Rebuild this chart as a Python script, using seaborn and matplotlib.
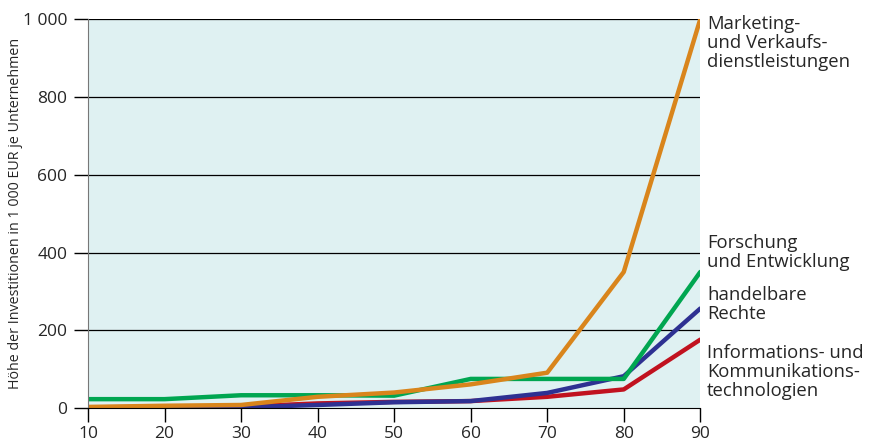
import numpy as np
import pandas as pd
import matplotlib
matplotlib.use("Agg")
import matplotlib.pyplot as plt
import seaborn as sns

# ─── Data ────────────────────────────────────────────────────────────────────
percentiles = [10, 20, 30, 40, 50, 60, 70, 80, 90]
marketing   = [3, 6, 8, 29, 40, 61, 91, 350, 1000]
forschung   = [23, 23, 33, 33, 32, 75, 75, 75, 350]
rechte      = [0, 2, 2, 8, 15, 18, 39, 82, 256]
ikt         = [2, 3, 4, 12, 16, 18, 29, 48, 176]

series_names = [
    "Marketing-\nund Verkaufs-\ndienstleistungen",
    "Forschung\nund Entwicklung",
    "handelbare\nRechte",
    "Informations- und\nKommunikations-\ntechnologien",
]
series_vals = [marketing, forschung, rechte, ikt]
colors = ["#d9851c", "#00a651", "#2e3192", "#c1121f"]

df = pd.DataFrame({
    "x": percentiles * 4,
    "y": marketing + forschung + rechte + ikt,
    "series": np.repeat(series_names, len(percentiles)),
})

# ─── Plot ────────────────────────────────────────────────────────────────────
sns.set_style("ticks")
plt.rcParams["font.family"] = ["Open Sans", "DejaVu Sans"]

fig = plt.figure(figsize=(8.71, 4.46), dpi=100)
ax = fig.add_axes([0.101, 0.085, 0.703, 0.872])
ax.set_facecolor("#dff1f2")

# draw in reverse so orange ends on top
order = series_names[::-1]
sns.lineplot(
    data=df, x="x", y="y", hue="series", hue_order=order,
    palette=dict(zip(series_names, colors)), linewidth=3.2,
    legend=False, ax=ax,
)

for yv in [200, 400, 600, 800, 1000]:
    ax.axhline(yv, color="black", lw=0.9, zorder=0.5)

ax.set_xlim(10, 90)
ax.set_ylim(0, 1000)
ax.set_xticks(percentiles)
ax.set_yticks([0, 200, 400, 600, 800, 1000])
ax.set_yticklabels(["0", "200", "400", "600", "800", "1 000"])
ax.tick_params(axis="both", labelsize=12.5, length=10, width=1, color="black",
               direction="out", pad=5)
ax.tick_params(axis="x", pad=3)
ax.set_xlabel("")
ax.set_ylabel("Höhe der Investitionen in 1 000 EUR je Unternehmen",
              fontsize=10.3)
ax.yaxis.set_label_coords(-0.106, 0.5)

for side in ["top", "right"]:
    ax.spines[side].set_visible(False)
ax.spines["left"].set_color("#777777")
ax.spines["bottom"].set_color("black")

# ─── Right-hand labels ───────────────────────────────────────────────────────
label_y = [1012, 448, 313, 166]
for name, ly in zip(series_names, label_y):
    ax.text(90.9, ly, name, fontsize=13.3, va="top", ha="left",
            linespacing=1.08, clip_on=False)

fig.savefig("out.png", dpi=100)
